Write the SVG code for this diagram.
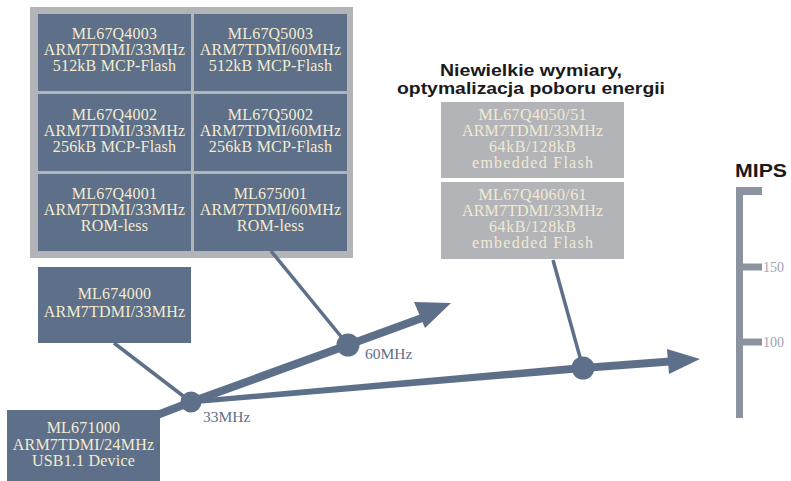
<svg xmlns="http://www.w3.org/2000/svg" width="791" height="481" viewBox="0 0 791 481">
<style>
.dk{fill:#5e7089}
.gr{fill:#b3b4b8}
.t{font-family:"Liberation Serif","Times New Roman",serif;font-size:16px;letter-spacing:0.2px;fill:#f3ecd0;text-anchor:middle}
.tg{font-family:"Liberation Serif","Times New Roman",serif;font-size:16px;fill:#f1ead2;text-anchor:middle}
.lbl{font-family:"Liberation Serif","Times New Roman",serif;font-size:15.5px;fill:#5e7089}
.sc{font-family:"Liberation Serif","Times New Roman",serif;font-size:14px;fill:#a0a4ae}
.hd{font-family:"Liberation Sans",Arial,sans-serif;font-weight:bold;fill:#1a1a1a}
.thin{stroke:#5e7089;stroke-width:3.5;fill:none}
.bar{fill:#8b93a1}
</style>
<rect width="791" height="481" fill="#ffffff"/>

<rect x="30" y="7" width="323" height="251" class="gr"/>

<g id="n-ml67q4003"><rect x="38" y="14" width="153" height="77" class="dk"/>
<text class="t" x="114.5" y="39">ML67Q4003</text><text class="t" x="114.5" y="55">ARM7TDMI/33MHz</text><text class="t" x="114.5" y="71">512kB MCP-Flash</text></g>
<g id="n-ml67q5003"><rect x="194" y="14" width="153" height="77" class="dk"/>
<text class="t" x="270.5" y="39">ML67Q5003</text><text class="t" x="270.5" y="55">ARM7TDMI/60MHz</text><text class="t" x="270.5" y="71">512kB MCP-Flash</text></g>
<g id="n-ml67q4002"><rect x="38" y="94" width="153" height="77" class="dk"/>
<text class="t" x="114.5" y="120">ML67Q4002</text><text class="t" x="114.5" y="136">ARM7TDMI/33MHz</text><text class="t" x="114.5" y="152">256kB MCP-Flash</text></g>
<g id="n-ml67q5002"><rect x="194" y="94" width="153" height="77" class="dk"/>
<text class="t" x="270.5" y="120">ML67Q5002</text><text class="t" x="270.5" y="136">ARM7TDMI/60MHz</text><text class="t" x="270.5" y="152">256kB MCP-Flash</text></g>
<g id="n-ml67q4001"><rect x="38" y="174" width="153" height="77" class="dk"/>
<text class="t" x="114.5" y="199">ML67Q4001</text><text class="t" x="114.5" y="215">ARM7TDMI/33MHz</text><text class="t" x="114.5" y="231">ROM-less</text></g>
<g id="n-ml675001"><rect x="194" y="174" width="153" height="77" class="dk"/>
<text class="t" x="270.5" y="199">ML675001</text><text class="t" x="270.5" y="215">ARM7TDMI/60MHz</text><text class="t" x="270.5" y="231">ROM-less</text></g>

<g id="n-ml674000"><rect x="38" y="267" width="153" height="76" class="dk"/>
<text class="t" x="114.5" y="299">ML674000</text><text class="t" x="114.5" y="316.5">ARM7TDMI/33MHz</text></g>

<g id="n-ml671000"><rect x="7" y="410" width="153" height="71" class="dk"/>
<text class="t" x="83.5" y="433">ML671000</text><text class="t" x="83.5" y="449.5">ARM7TDMI/24MHz</text><text class="t" x="83.5" y="465.5">USB1.1 Device</text></g>

<g id="title">
<text class="hd" x="531" y="75.5" font-size="17" text-anchor="middle" textLength="182" lengthAdjust="spacingAndGlyphs">Niewielkie wymiary,</text>
<text class="hd" x="531" y="94" font-size="17" text-anchor="middle" textLength="268" lengthAdjust="spacingAndGlyphs">optymalizacja poboru energii</text>
</g>

<g id="n-ml67q4050"><rect x="441" y="102" width="183" height="76" class="gr"/>
<text class="tg" x="532.5" y="120" textLength="108" lengthAdjust="spacing">ML67Q4050/51</text>
<text class="tg" x="532.5" y="136" textLength="141" lengthAdjust="spacing">ARM7TDMI/33MHz</text>
<text class="tg" x="532.5" y="152" textLength="87" lengthAdjust="spacing">64kB/128kB</text>
<text class="tg" x="532.5" y="168" textLength="121" lengthAdjust="spacing">embedded Flash</text></g>
<g id="n-ml67q4060"><rect x="441" y="182" width="183" height="77" class="gr"/>
<text class="tg" x="532.5" y="200" textLength="108" lengthAdjust="spacing">ML67Q4060/61</text>
<text class="tg" x="532.5" y="216" textLength="141" lengthAdjust="spacing">ARM7TDMI/33MHz</text>
<text class="tg" x="532.5" y="232" textLength="87" lengthAdjust="spacing">64kB/128kB</text>
<text class="tg" x="532.5" y="248" textLength="121" lengthAdjust="spacing">embedded Flash</text></g>

<g id="connectors">
<line class="thin" x1="114" y1="343" x2="191" y2="402"/>
<line class="thin" x1="271" y1="251" x2="348" y2="345"/>
<line class="thin" x1="553" y1="260" x2="583" y2="368" stroke-width="4"/>
<polyline points="156,415.5 191,402 348,345 422,318" fill="none" stroke="#5e7089" stroke-width="8"/>
<polygon points="451,303 414,302 425,328" fill="#5e7089"/>
<polygon points="190,399.5 583,364 670,357.5 670,365.5 583,372 190,404.5" fill="#5e7089"/>
<polygon points="700,359 667,349 669,374" fill="#5e7089"/>
<circle cx="191" cy="402" r="10.5" fill="#5e7089"/>
<circle cx="348" cy="345" r="11.5" fill="#5e7089"/>
<circle cx="583" cy="368" r="11.5" fill="#5e7089"/>
<text class="lbl" x="365" y="359">60MHz</text>
<text class="lbl" x="203" y="421.5">33MHz</text>
</g>

<g id="scale">
<text class="hd" x="735" y="177" font-size="19" textLength="52" lengthAdjust="spacingAndGlyphs">MIPS</text>
<rect x="736" y="187" width="7" height="231" class="bar"/>
<rect x="736" y="187" width="26" height="8" class="bar"/>
<rect x="736" y="263.5" width="26" height="7" class="bar"/>
<rect x="736" y="338.5" width="26" height="7" class="bar"/>
<text class="sc" x="763" y="271.5">150</text>
<text class="sc" x="763" y="346.5">100</text>
</g>
</svg>
